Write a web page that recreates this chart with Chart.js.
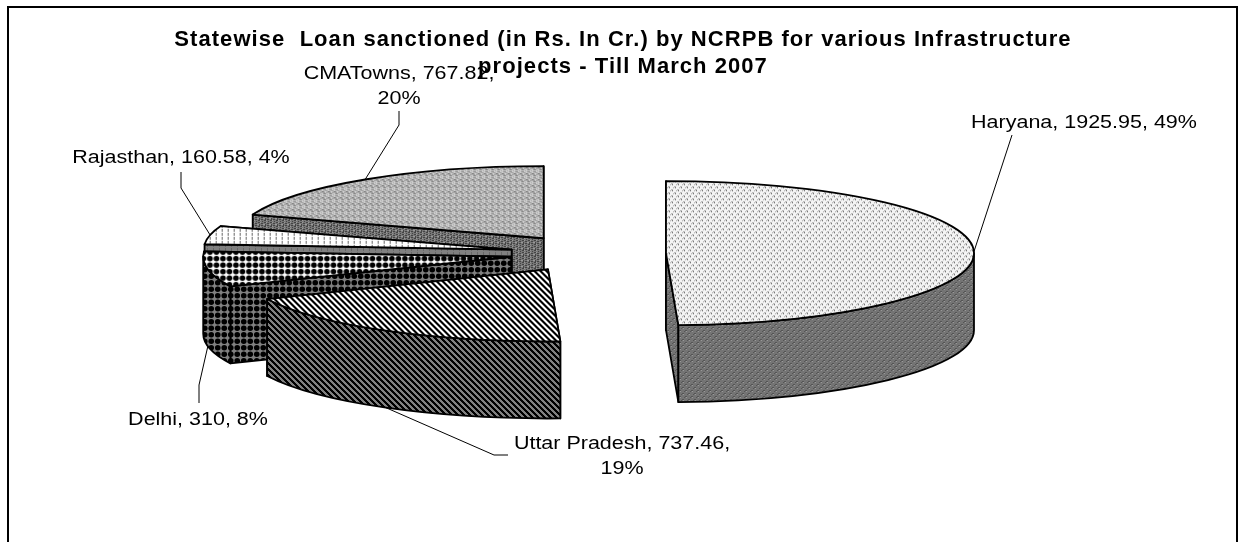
<!DOCTYPE html>
<html>
<head>
<meta charset="utf-8">
<style>
    html, body { margin: 0; padding: 0; background: #fff; overflow: hidden; }
    #loanChart { display: block; }
</style>
<script src="https://cdn.jsdelivr.net/npm/chart.js@4/dist/chart.umd.min.js"></script>
</head>
<body>
<div style="width:1238px;height:542px"><canvas id="loanChart"></canvas></div>
<script>
const titleLines = [
    'Statewise  Loan sanctioned (in Rs. In Cr.) by NCRPB for various Infrastructure',
    'projects - Till March 2007'
];
const categories = ['Haryana', 'Uttar Pradesh', 'Delhi', 'Rajasthan', 'CMATowns'];
const loanValues = [1925.95, 737.46, 310, 160.58, 767.82];
const valueLabels = ['1925.95', '737.46', '310', '160.58', '767.82'];
const sharePercents = [49, 19, 8, 4, 20];

// 3d look of the pie
const tilt = 0.234;
const depth = 77;
const pieRadius = 308;
const pieCentre = { x: 590, y: 253.5 };
const explode = [76, 80, 80, 80, 80];
const backToFront = [4, 3, 2, 1, 0];

// label text centre, wrapped or not, and the leader line points after the slice anchor
const labelLayout = [
    { x: 1084, y: 123, wrap: false, leader: [[1012, 135]] },
    { x: 622, y: 444, wrap: true, leader: [[494, 455], [508, 455]] },
    { x: 198, y: 420, wrap: false, leader: [[199, 385], [199, 403]] },
    { x: 181, y: 158, wrap: false, leader: [[181, 188], [181, 172]] },
    { x: 399, y: 74, wrap: true, leader: [[399, 125], [399, 111]] }
];
// the source picture is a little wider than tall
const labelStretch = 1.15;

function makeTile(w, h, bg, paint) {
    const c = document.createElement('canvas');
    c.width = w;
    c.height = h;
    const g = c.getContext('2d');
    g.fillStyle = bg;
    g.fillRect(0, 0, w, h);
    paint(g);
    return c;
}

function stipple(fg, fg2) {
    return function (g) {
        g.fillStyle = fg;
        g.fillRect(1, 0, 2, 1); g.fillRect(0, 1, 1, 1);
        g.fillRect(4, 3, 2, 1); g.fillRect(3, 4, 1, 1);
        g.fillStyle = fg2;
        g.fillRect(2, 1, 1, 1); g.fillRect(5, 4, 1, 1);
    };
}

function noise(fg, fg2) {
    return function (g) {
        g.fillStyle = fg;
        g.fillRect(0, 0, 2, 1); g.fillRect(3, 1, 2, 1); g.fillRect(1, 2, 1, 2);
        g.fillRect(3, 3, 2, 1); g.fillRect(0, 4, 2, 1); g.fillRect(4, 5, 1, 1);
        g.fillStyle = fg2;
        g.fillRect(2, 0, 1, 1); g.fillRect(5, 2, 1, 1); g.fillRect(2, 4, 1, 1); g.fillRect(0, 2, 1, 1);
    };
}

function diagonal(fg) {
    return function (g) {
        g.fillStyle = fg;
        for (let i = 0; i < 6; i++) {
            g.fillRect(i, i, 3, 1);
            if (i > 3) g.fillRect(i - 6, i, 3, 1);
        }
    };
}

function dots(fg) {
    return function (g) {
        g.fillStyle = fg;
        [3.25, 9.75].forEach(function (x) {
            [3.25, 9.75].forEach(function (y) {
                g.beginPath();
                g.arc(x, y, 2.8, 0, Math.PI * 2);
                g.fill();
            });
        });
    };
}

function stripes(fg) {
    return function (g) {
        g.fillStyle = fg;
        g.fillRect(3, 0, 1, 3);
    };
}

const topTiles = [
    makeTile(6, 6, '#f4f4f4', stipple('#a8a8a8', '#666')),
    makeTile(6, 6, '#fff', diagonal('#000')),
    makeTile(13, 13, '#fff', dots('#000')),
    makeTile(6, 4, '#fff', stripes('#666')),
    makeTile(6, 6, '#d8d8d8', noise('#8a8a8a', '#555'))
];
const wallTiles = [
    makeTile(6, 6, '#747474', stipple('#555', '#999')),
    makeTile(6, 6, '#808080', diagonal('#000')),
    makeTile(13, 13, '#808080', dots('#000')),
    makeTile(6, 4, '#808080', stripes('#666')),
    makeTile(6, 6, '#777', noise('#444', '#999'))
];

const probe = document.createElement('canvas').getContext('2d');
const topFills = topTiles.map(function (tile) {
    const p = probe.createPattern(tile, 'repeat');
    p.setTransform(new DOMMatrix().scale(1, 1 / tilt));
    return p;
});
const wallFills = wallTiles.map(function (tile) {
    return probe.createPattern(tile, 'repeat');
});

function sliceShape(arc, i) {
    const mid = (arc.startAngle + arc.endAngle) / 2;
    return {
        cx: pieCentre.x + Math.cos(mid) * explode[i],
        cy: pieCentre.y + Math.sin(mid) * explode[i] * tilt,
        r: arc.outerRadius,
        a0: arc.startAngle,
        a1: arc.endAngle,
        mid: mid
    };
}

function edgePoint(s, angle) {
    return [s.cx + s.r * Math.cos(angle), s.cy + s.r * tilt * Math.sin(angle)];
}

function paintPath(ctx, fill) {
    ctx.closePath();
    ctx.fillStyle = fill;
    ctx.fill();
    ctx.stroke();
}

function drawCutFace(ctx, s, angle, fill) {
    const p = edgePoint(s, angle);
    ctx.beginPath();
    ctx.moveTo(s.cx, s.cy);
    ctx.lineTo(p[0], p[1]);
    ctx.lineTo(p[0], p[1] + depth);
    ctx.lineTo(s.cx, s.cy + depth);
    paintPath(ctx, fill);
}

// the outer wall only shows on the front half of the ellipse
function drawOuterWall(ctx, s, fill) {
    const from = Math.max(s.a0, 0);
    const to = Math.min(s.a1, Math.PI);
    if (to > from) {
        wallSpan(ctx, s, from, to, fill);
    }
    if (s.a1 > 2 * Math.PI) {
        wallSpan(ctx, s, 2 * Math.PI, s.a1, fill);
    }
}

function wallSpan(ctx, s, from, to, fill) {
    ctx.beginPath();
    ctx.ellipse(s.cx, s.cy, s.r, s.r * tilt, 0, from, to);
    ctx.ellipse(s.cx, s.cy + depth, s.r, s.r * tilt, 0, to, from, true);
    paintPath(ctx, fill);
}

function wideText(ctx, text, x, y) {
    ctx.save();
    ctx.translate(x, y);
    ctx.scale(labelStretch, 1);
    ctx.fillText(text, 0, 0);
    ctx.restore();
}

const pie3dPlugin = {
    id: 'pie3d',
    beforeDraw: function (chart) {
        const ctx = chart.ctx;
        ctx.save();
        ctx.strokeStyle = '#000';
        ctx.lineWidth = 2;
        ctx.strokeRect(8, 7, 1229, 600);
        ctx.restore();
        // title text reaches the full width of the original at this height
        ctx.letterSpacing = '1.05px';
    },
    beforeDatasetsDraw: function (chart) {
        const ctx = chart.ctx;
        const arcs = chart.getDatasetMeta(0).data;
        ctx.letterSpacing = '0px';
        ctx.save();
        ctx.strokeStyle = '#000';
        ctx.lineWidth = 1.8;
        ctx.lineJoin = 'round';
        backToFront.forEach(function (i) {
            const arc = arcs[i];
            const s = sliceShape(arc, i);
            // farther cut face goes first so the nearer one covers it
            const faces = [s.a0, s.a1].sort(function (a, b) {
                return Math.sin(a) - Math.sin(b);
            });
            drawCutFace(ctx, s, faces[0], wallFills[i]);
            drawCutFace(ctx, s, faces[1], wallFills[i]);
            drawOuterWall(ctx, s, wallFills[i]);

            ctx.save();
            ctx.translate(s.cx, s.cy);
            ctx.scale(1, tilt);
            ctx.translate(-arc.x, -arc.y);
            arc.draw(ctx);
            ctx.restore();

            ctx.beginPath();
            ctx.moveTo(s.cx, s.cy);
            ctx.ellipse(s.cx, s.cy, s.r, s.r * tilt, 0, s.a0, s.a1);
            ctx.closePath();
            ctx.stroke();
        });
        ctx.restore();
        return false;
    },
    afterDraw: function (chart) {
        const ctx = chart.ctx;
        const arcs = chart.getDatasetMeta(0).data;
        ctx.save();
        ctx.font = '18.7px "Liberation Sans"';
        ctx.fillStyle = '#000';
        ctx.strokeStyle = '#000';
        ctx.lineWidth = 1;
        ctx.textAlign = 'center';
        ctx.textBaseline = 'middle';
        labelLayout.forEach(function (spot, i) {
            const s = sliceShape(arcs[i], i);
            const start = edgePoint(s, s.mid);
            // Delhi and Uttar Pradesh are picked up on the bottom of their wall
            const onWall = Math.sin(s.mid) > 0.1;
            ctx.beginPath();
            ctx.moveTo(start[0], start[1] + (onWall ? depth : 0));
            spot.leader.forEach(function (pt) {
                ctx.lineTo(pt[0], pt[1]);
            });
            ctx.stroke();

            const head = categories[i] + ', ' + valueLabels[i] + ',';
            const tail = sharePercents[i] + '%';
            if (spot.wrap) {
                wideText(ctx, head, spot.x, spot.y);
                wideText(ctx, tail, spot.x, spot.y + 25);
            } else {
                wideText(ctx, head + ' ' + tail, spot.x, spot.y);
            }
        });
        ctx.restore();
    }
};

const myChart = new Chart(document.getElementById('loanChart'), {
    type: 'pie',
    data: {
        labels: categories,
        datasets: [{
            label: 'Loan sanctioned',
            data: loanValues,
            backgroundColor: topFills,
            borderWidth: 0,
            radius: pieRadius
        }]
    },
    options: {
        responsive: true,
        maintainAspectRatio: false,
        animation: false,
        layout: { padding: { left: 8 } },
        events: [],
        plugins: {
            legend: { display: false },
            tooltip: { enabled: false },
            title: {
                display: true,
                text: titleLines,
                color: '#000',
                font: { family: '"Liberation Sans"', size: 22, weight: 'bold', lineHeight: 1.25 },
                padding: { top: 26, bottom: 0 }
            }
        }
    },
    plugins: [pie3dPlugin]
});
</script>
</body>
</html>
